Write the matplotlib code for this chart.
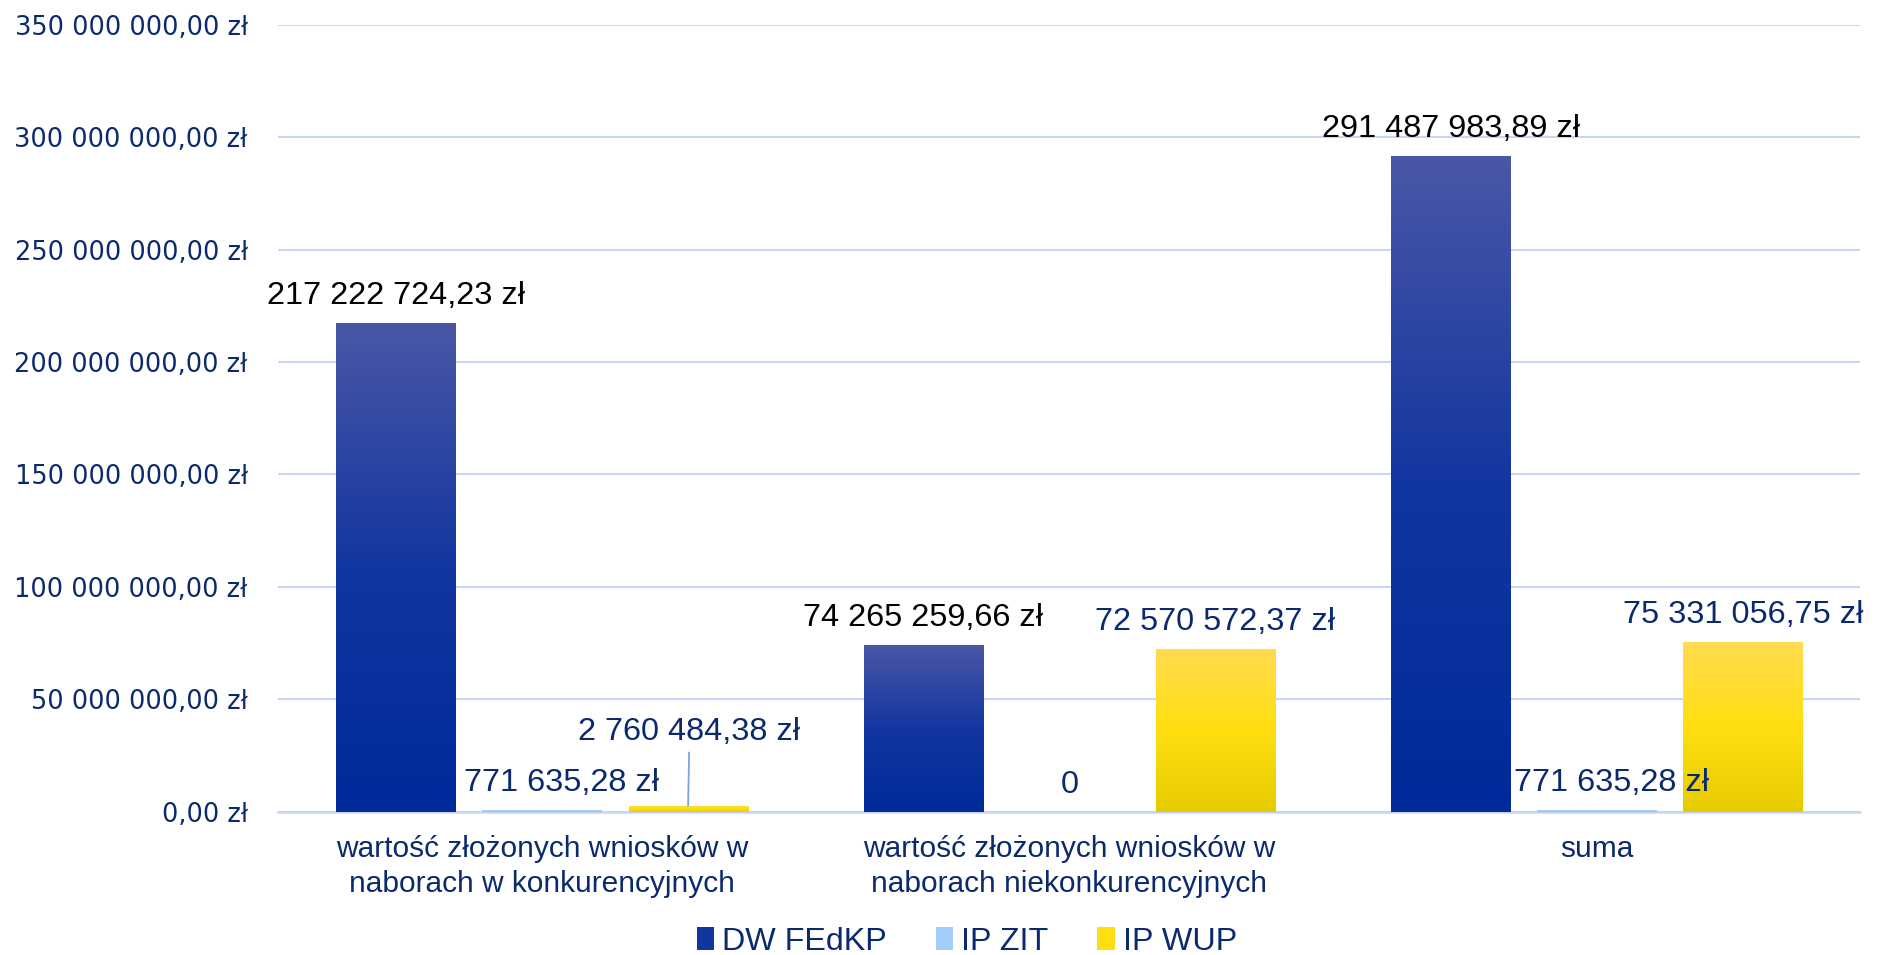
import numpy as np
import matplotlib
matplotlib.use('Agg')
import matplotlib.pyplot as plt
from matplotlib.colors import LinearSegmentedColormap
from matplotlib.patches import Patch

# data
categories = ['wartość złożonych wniosków w\nnaborach w konkurencyjnych',
              'wartość złożonych wniosków w\nnaborach niekonkurencyjnych',
              'suma']
series = ['DW FEdKP', 'IP ZIT', 'IP WUP']
dw = [217222724.23, 74265259.66, 291487983.89]
zit = [771635.28, 0, 771635.28]
wup = [2760484.38, 72570572.37, 75331056.75]
yticks = [0, 50e6, 100e6, 150e6, 200e6, 250e6, 300e6, 350e6]

NAVY = '#0B2A6E'
ARIAL = 'Liberation Sans'
LBL = 23.4

grads = {
    'DW FEdKP': ['#4A57A6', '#1236A0', '#002A9A'],
    'IP ZIT': ['#B4DAFF', '#A2CDF8', '#8CB9E8'],
    'IP WUP': ['#FFDB50', '#FFDF10', '#E6CB00'],
}


def zl(v, dec=True):
    if v == 0 and not dec:
        return '0'
    s = f'{v:,.2f}'.replace(',', ' ').replace('.', ',')
    return s + ' zł'


def grad_bar(ax, x, h, w, cols):
    bar = ax.bar(x, h, w, color='none', edgecolor='none', zorder=3)[0]
    if h <= 0:
        return bar
    cmap = LinearSegmentedColormap.from_list('g', list(zip([0, 0.5, 1], cols)))
    g = np.linspace(0, 1, 256).reshape(-1, 1)
    im = ax.imshow(g, extent=[x - w / 2, x + w / 2, 0, h], aspect='auto',
                   cmap=cmap, zorder=3, interpolation='bilinear')
    im.set_clip_path(bar)
    return bar


fig = plt.figure(figsize=(18.81, 9.55), dpi=100)
ax = fig.add_axes([0.148, 0.150, 0.841, 0.824])

x = np.arange(len(categories))
w = 0.226
step = 0.277
vals = [dw, zit, wup]

for k, (name, v) in enumerate(zip(series, vals)):
    for i in range(len(categories)):
        grad_bar(ax, x[i] + (k - 1) * step, v[i], w, grads[name])

# labels above bars
for i in range(len(categories)):
    ax.annotate(zl(dw[i]), (x[i] - step, dw[i]), xytext=(0, 19.5),
                textcoords='offset points', ha='center', va='center',
                fontsize=LBL, family=ARIAL, color='black')

zit_dx = [14, 0, 11]
for i in range(len(categories)):
    ax.annotate(zl(zit[i], dec=False), (x[i], zit[i]), xytext=(zit_dx[i], 19.5),
                textcoords='offset points', ha='center', va='center',
                fontsize=LBL, family=ARIAL, color=NAVY, zorder=5)

for i in range(len(categories)):
    if i == 0:
        ax.annotate(zl(wup[i]), (x[i] + step, wup[i]), xytext=(1, 53),
                    textcoords='offset points', ha='center', va='center',
                    fontsize=LBL, family=ARIAL, color=NAVY,
                    arrowprops=dict(arrowstyle='-', color='#7F9FE6', lw=1.3,
                                    shrinkA=2, shrinkB=0))
    else:
        ax.annotate(zl(wup[i]), (x[i] + step, wup[i]), xytext=(0, 19.5),
                    textcoords='offset points', ha='center', va='center',
                    fontsize=LBL, family=ARIAL, color=NAVY)

ax.set_xlim(-0.5, 2.5)
ax.set_ylim(0, 350e6)
ax.set_yticks(yticks)
ax.set_yticklabels([zl(t) for t in yticks], fontsize=18.45, color=NAVY,
                   family='DejaVu Sans')
ax.set_xticks(x)
ax.set_xticklabels(categories, fontsize=21.5, color=NAVY, family=ARIAL,
                   linespacing=1.3)
ax.tick_params(axis='y', length=0, pad=22)
ax.tick_params(axis='x', length=0, pad=17)
ax.grid(axis='y', color='#C8D5F6', lw=1.5, zorder=0)
ax.set_axisbelow(True)
for s in ['top', 'right', 'left']:
    ax.spines[s].set_visible(False)
ax.spines['bottom'].set_color('#C8D5F6')
ax.spines['bottom'].set_linewidth(1.8)

handles = [Patch(facecolor=grads[n][1], edgecolor='none', label=n) for n in series]
fig.legend(handles=handles, loc='center', bbox_to_anchor=(0.514, 0.014), ncol=3,
           frameon=False, prop={'family': ARIAL, 'size': 23.2},
           handlelength=0.55, handleheight=0.75, handletextpad=0.25,
           columnspacing=1.5, labelcolor=NAVY)

fig.savefig('out.png', dpi=100)
